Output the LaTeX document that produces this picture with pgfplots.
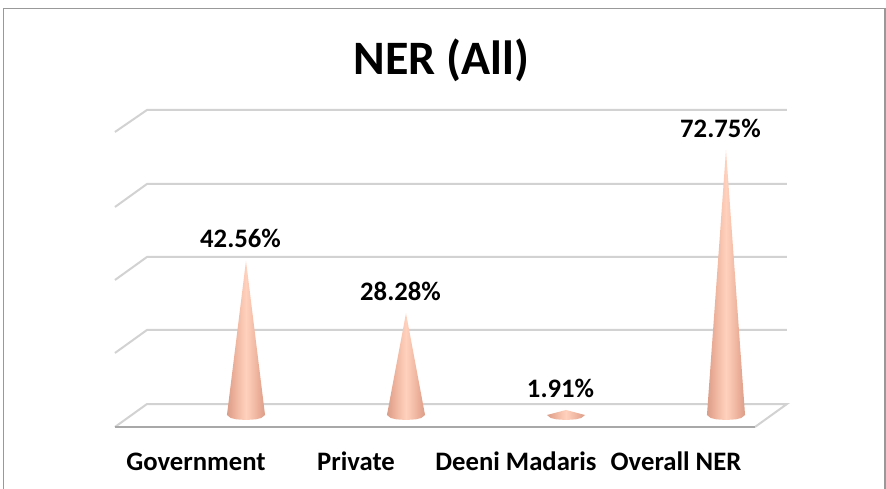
\documentclass[border=0pt]{standalone}
\usepackage{pgfplots}
\pgfplotsset{compat=1.18}
\usepackage{fontspec}
\setmainfont{Carlito}
\definecolor{gridc}{HTML}{D2D2D2}
\definecolor{frontc}{HTML}{A8A8A8}
\definecolor{coneedge}{HTML}{DA9D87}
\definecolor{coneside}{HTML}{EDB29C}
\definecolor{conemid}{HTML}{FFD2BE}
\definecolor{framec}{HTML}{999999}
\pgfdeclarehorizontalshading{conesh}{100bp}{color(0bp)=(coneedge);color(25bp)=(coneedge);color(35bp)=(coneside);color(50bp)=(conemid);color(65bp)=(coneside);color(75bp)=(coneedge);color(100bp)=(coneedge)}
\tikzset{cone/.style={draw=none,shade,shading=conesh}}
\begin{document}
\begin{tikzpicture}
\path[use as bounding box] (0pt,0pt) rectangle (664.5pt,366.75pt);
\draw[framec,line width=1.1pt] (2.6pt,0pt) -- (2.6pt,360.4pt) -- (663.8pt,360.4pt) -- (663.8pt,0pt);
\begin{axis}[
  at={(86.25pt,46.5pt)},anchor=south west,
  scale only axis,width=504pt,height=237.75pt,
  xmin=-0.81875,xmax=3.38125,
  ymin=-2.725,ymax=83.65,
  clip=false,
  axis line style={draw=none},
  major tick style={draw=none},
  ytick=\empty,
  xtick={0,1,2,3},
  xticklabels={Government,Private,Deeni Madaris,Overall NER},
  xticklabel style={font=\fontsize{20}{22}\selectfont\bfseries,text height=14pt,text depth=4pt,xshift=-37.5pt,yshift=-15pt},
  title={NER (All)},
  title style={font=\fontsize{36}{42}\selectfont\bfseries,at={(0.5,1)},anchor=south,xshift=-7pt,yshift=12pt},
]
% wall grid lines
\addplot[gridc,line width=1.5pt] coordinates {(-0.819,17.44)(-0.619,23.71)(3.381,23.71)};
\addplot[gridc,line width=1.5pt] coordinates {(-0.819,37.33)(-0.619,43.6)(3.381,43.6)};
\addplot[gridc,line width=1.5pt] coordinates {(-0.819,57.22)(-0.619,63.49)(3.381,63.49)};
\addplot[gridc,line width=1.5pt] coordinates {(-0.819,77.66)(-0.619,83.65)(3.381,83.65)};
% floor
\addplot[gridc,line width=1.5pt] coordinates {(-0.819,-2.72)(-0.619,3.54)(3.381,3.54)(3.181,-2.72)};
\addplot[frontc,line width=1.5pt] coordinates {(-0.819,-2.72)(3.181,-2.72)};
% cones
\addplot[cone] coordinates {(-0.119,0.54)(0,42.56)(0.119,0.54)(0.095,-0.28)(0.06,-0.64)(0,-0.82)(-0.06,-0.64)(-0.095,-0.28)} --cycle;
\addplot[cone] coordinates {(0.881,0.54)(1,28.28)(1.119,0.54)(1.095,-0.28)(1.06,-0.64)(1,-0.82)(0.94,-0.64)(0.905,-0.28)} --cycle;
\addplot[cone] coordinates {(1.881,0.54)(2,1.91)(2.119,0.54)(2.095,-0.28)(2.06,-0.64)(2,-0.82)(1.94,-0.64)(1.905,-0.28)} --cycle;
\addplot[cone] coordinates {(2.881,0.54)(3,72.75)(3.119,0.54)(3.095,-0.28)(3.06,-0.64)(3,-0.82)(2.94,-0.64)(2.905,-0.28)} --cycle;
% data labels
\addplot[draw=none,
  point meta=explicit symbolic,
  nodes near coords,
  nodes near coords style={font=\fontsize{20}{22}\selectfont\bfseries,anchor=south,xshift=-4.1pt,yshift=6pt,text=black},
] coordinates {(0,42.56)[42.56\%] (1,28.28)[28.28\%] (2,1.91)[1.91\%] (3,72.75)[72.75\%]};
\end{axis}
\end{tikzpicture}
\end{document}
